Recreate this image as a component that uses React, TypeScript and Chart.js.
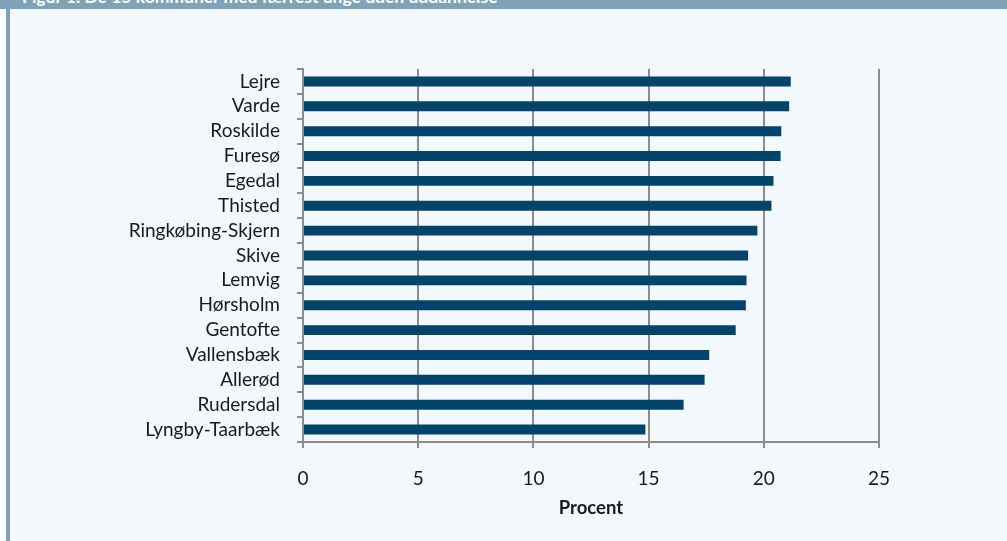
import React, { useEffect, useRef } from "react";
import { Chart, registerables } from "chart.js";

Chart.register(...registerables);

const TITLE = "Figur 1. De 15 kommuner med færrest unge uden uddannelse";
const AXIS_TITLE = "Procent";
const categories = [
  "Lejre",
  "Varde",
  "Roskilde",
  "Furesø",
  "Egedal",
  "Thisted",
  "Ringkøbing-Skjern",
  "Skive",
  "Lemvig",
  "Hørsholm",
  "Gentofte",
  "Vallensbæk",
  "Allerød",
  "Rudersdal",
  "Lyngby-Taarbæk",
];
const values = [21.17, 21.1, 20.76, 20.73, 20.42, 20.33, 19.72, 19.32, 19.25, 19.22, 18.78, 17.63, 17.43, 16.52, 14.86];
const xTicks = [0, 5, 10, 15, 20, 25];

const FONT = "Lato, 'Noto Sans', sans-serif";

export default function App() {
  const ref = useRef<HTMLCanvasElement | null>(null);

  useEffect(() => {
    document.body.style.margin = "0";
    const ctx = ref.current!;
    const chart = new Chart(ctx, {
      type: "bar",
      data: {
        labels: categories,
        datasets: [
          {
            data: values,
            backgroundColor: "#00446b",
            borderWidth: 0,
            categoryPercentage: 1,
            barPercentage: 0.4,
          },
        ],
      },
      options: {
        indexAxis: "y",
        animation: false,
        responsive: false,
        maintainAspectRatio: false,
        layout: { padding: { top: 69, right: 128, bottom: 22, left: 0 } },
        plugins: { legend: { display: false }, tooltip: { enabled: false } },
        scales: {
          x: {
            min: 0,
            max: 25,
            afterBuildTicks: (scale: any) => {
              scale.ticks = xTicks.map((v) => ({ value: v }));
            },
            afterFit: (scale: any) => {
              scale.height = 77;
            },
            grid: {
              color: "#8c8c8c",
              lineWidth: 2,
              drawTicks: true,
              tickLength: 6,
            },
            border: { display: true, color: "#8c8c8c", width: 2 },
            ticks: {
              color: "#1a1a1a",
              font: { family: FONT, size: 19 },
              padding: 19,
              autoSkip: false,
              maxRotation: 0,
            },
            title: {
              display: true,
              text: AXIS_TITLE,
              color: "#1a1a1a",
              font: { family: FONT, size: 18.5, weight: "bold" },
              padding: { top: 6, bottom: 0 },
            },
          },
          y: {
            afterFit: (scale: any) => {
              scale.width = 303;
            },
            offset: true,
            grid: {
              offset: true,
              drawOnChartArea: false,
              drawTicks: true,
              tickLength: 6,
              color: "#8c8c8c",
              lineWidth: 2,
            },
            border: { display: true, color: "#8c8c8c", width: 2 },
            ticks: {
              color: "#1a1a1a",
              font: { family: FONT, size: 19 },
              padding: 17,
              autoSkip: false,
            },
          },
        },
      },
    });
    return () => chart.destroy();
  }, []);

  return (
    <div
      style={{
        position: "fixed",
        left: 0,
        top: 0,
        width: 1007,
        height: 541,
        background: "#ffffff",
        overflow: "hidden",
      }}
    >
      <div
        style={{
          position: "absolute",
          left: 6,
          top: 0,
          width: 1001,
          height: 541,
          background: "#f3f8fc",
          borderLeft: "4px solid #7ea3b9",
          boxSizing: "border-box",
        }}
      />
      <div
        style={{
          position: "absolute",
          left: 0,
          top: 0,
          width: 1007,
          height: 9,
          background: "#7ea3b9",
          overflow: "hidden",
        }}
      >
        <div
          style={{
            position: "absolute",
            left: 22,
            top: -13,
            color: "#ffffff",
            fontFamily: FONT,
            fontWeight: "bold",
            fontSize: 17.5,
            lineHeight: "20px",
            whiteSpace: "nowrap",
          }}
        >
          {TITLE}
        </div>
      </div>
      <canvas
        ref={ref}
        width={1007}
        height={541}
        style={{ position: "absolute", left: 0, top: 0, width: 1007, height: 541 }}
      />
    </div>
  );
}
